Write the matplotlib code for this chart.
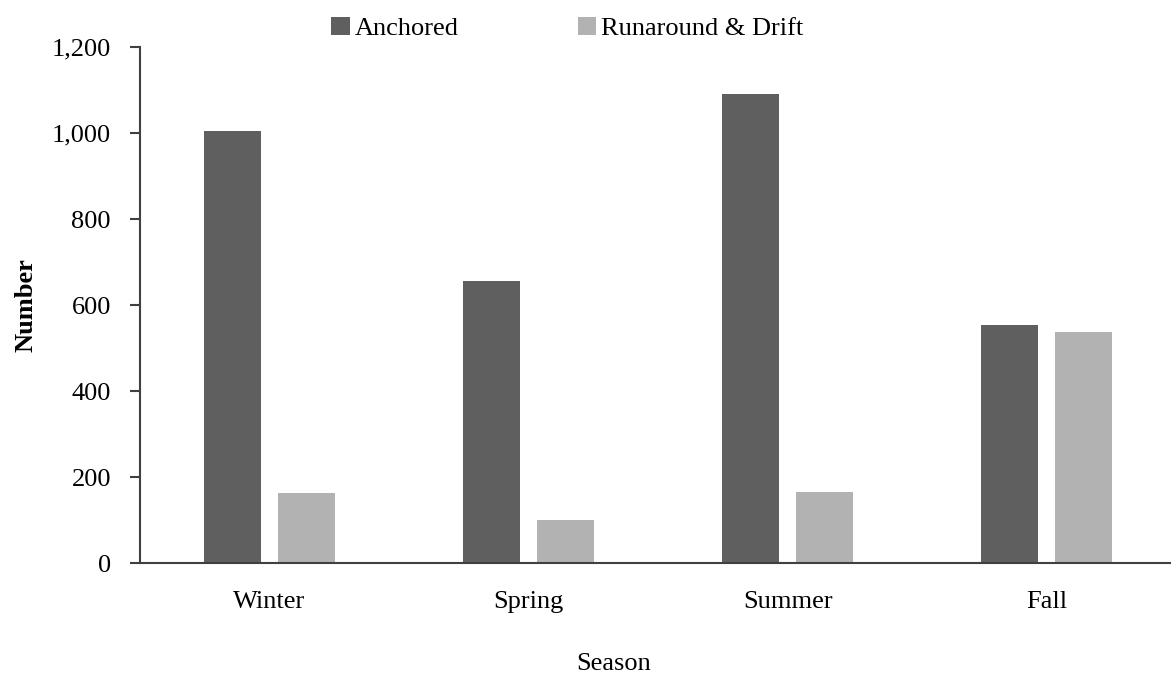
import matplotlib
matplotlib.use('agg')
import matplotlib.pyplot as plt
from matplotlib.ticker import FuncFormatter
import numpy as np

seasons = ['Winter', 'Spring', 'Summer', 'Fall']
anchored = [1005, 655, 1090, 553]
runaround = [163, 100, 165, 538]
series_names = ['Anchored', 'Runaround & Drift']

plt.rcParams['font.family'] = ['Liberation Serif', 'DejaVu Serif']

fig = plt.figure(figsize=(11.71, 6.79), dpi=100)
ax = fig.add_axes([0.1196, 0.1708, 0.8804, 0.76])

x = np.arange(len(seasons))
w = 0.22
off = 0.143
b1 = ax.bar(x - off, anchored, width=w, color='#5f5f5f', label=series_names[0])
b2 = ax.bar(x + off, runaround, width=w, color='#b2b2b2', label=series_names[1])

ax.set_xlim(-0.5, 3.48)
ax.set_ylim(0, 1200)
ax.set_yticks(np.arange(0, 1201, 200))
ax.yaxis.set_major_formatter(FuncFormatter(lambda v, p: f'{int(v):,}'))
ax.set_xticks(x)
ax.set_xticklabels(seasons)

for s in ['top', 'right']:
    ax.spines[s].set_visible(False)
for s in ['left', 'bottom']:
    ax.spines[s].set_color('#404040')
    ax.spines[s].set_linewidth(1.5)

ax.tick_params(axis='y', direction='out', length=7, width=1.5, color='#404040',
               labelsize=19, pad=14)
ax.tick_params(axis='x', length=0, labelsize=19, pad=20)

ax.set_ylabel('Number', fontsize=19, fontweight='bold', labelpad=10)
ax.set_xlabel('Season', fontsize=19, labelpad=29)
ax.xaxis.label.set_x(0.459)

fig.legend(handles=[b1, b2], loc='upper center', bbox_to_anchor=(0.4846, 1.01),
           ncol=2, frameon=False, fontsize=19, handlelength=0.7, handleheight=0.7,
           handletextpad=0.2, columnspacing=4.5)

fig.savefig('out.png', dpi=100)
